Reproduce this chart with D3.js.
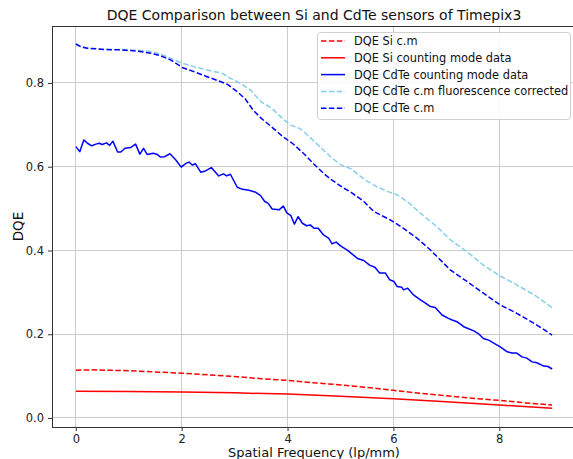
<!DOCTYPE html>
<html>
<head>
<meta charset="utf-8">
<script src="https://cdn.jsdelivr.net/npm/d3@7"></script>
<style>
  html, body { margin: 0; padding: 0; background: #fff; }
  svg { display: block; font-family: "DejaVu Sans", sans-serif; }
</style>
</head>
<body>
<svg id="chart" width="573" height="459"></svg>
<script>
// ---------- data ----------
const chartTitle = "DQE Comparison between Si and CdTe sensors of Timepix3";
const xLabel = "Spatial Frequency (lp/mm)";
const yLabel = "DQE";
const xTicks = [0, 2, 4, 6, 8];
const yTicks = [0.0, 0.2, 0.4, 0.6, 0.8];

const seriesNames = [
  "DQE Si c.m",
  "DQE Si counting mode data",
  "DQE CdTe counting mode data",
  "DQE CdTe c.m fluorescence corrected",
  "DQE CdTe c.m"
];

const siCmX = [0, 0.3, 0.6, 1.0, 1.5, 2.0, 2.5, 3.0, 3.5, 4.0, 4.5, 5.0, 5.5, 6.0, 6.5, 7.0, 7.5, 8.0, 8.5, 9.0];
const siCmY = [0.114, 0.115, 0.114, 0.113, 0.110, 0.107, 0.103, 0.099, 0.094, 0.090, 0.084, 0.079, 0.073, 0.066, 0.059, 0.053, 0.047, 0.042, 0.036, 0.031];

const siDataX = [0, 1, 2, 3, 4, 5, 6, 7, 8, 9];
const siDataY = [0.064, 0.063, 0.062, 0.060, 0.057, 0.052, 0.046, 0.039, 0.031, 0.023];

const cdteDataX = [0, 0.075, 0.15, 0.22, 0.30, 0.38, 0.44, 0.50, 0.58, 0.64, 0.70, 0.79, 0.85, 0.93, 1.04, 1.13, 1.21, 1.28, 1.35, 1.46,
  1.53, 1.60, 1.68, 1.78, 1.89, 1.99, 2.08, 2.14, 2.20, 2.26, 2.36, 2.45, 2.56, 2.70, 2.79, 2.85, 2.92, 3.05, 3.15, 3.27,
  3.40, 3.49, 3.57, 3.63, 3.71, 3.84, 3.92, 3.99, 4.06, 4.13, 4.20, 4.28, 4.36, 4.43, 4.50, 4.58, 4.68, 4.78, 4.84, 4.92,
  5.00, 5.13, 5.32, 5.44, 5.55, 5.65, 5.74, 5.85, 5.93, 6.01, 6.07, 6.16, 6.19, 6.27, 6.38, 6.51, 6.60, 6.70, 6.79, 6.92,
  7.04, 7.11, 7.20, 7.33, 7.42, 7.52, 7.61, 7.70, 7.80, 7.92, 8.02, 8.15, 8.24, 8.33, 8.43, 8.52, 8.62, 8.71, 8.84, 8.92, 9.00];
const cdteDataY = [0.648, 0.636, 0.664, 0.656, 0.650, 0.654, 0.656, 0.653, 0.657, 0.651, 0.661, 0.635, 0.635, 0.644, 0.646, 0.654, 0.630, 0.644, 0.629, 0.632,
  0.630, 0.623, 0.624, 0.631, 0.616, 0.599, 0.608, 0.611, 0.604, 0.607, 0.587, 0.590, 0.598, 0.578, 0.583, 0.578, 0.582, 0.551, 0.546, 0.544,
  0.539, 0.531, 0.517, 0.513, 0.499, 0.497, 0.506, 0.489, 0.484, 0.463, 0.481, 0.465, 0.459, 0.461, 0.453, 0.453, 0.437, 0.429, 0.416, 0.420,
  0.411, 0.401, 0.381, 0.376, 0.365, 0.360, 0.346, 0.346, 0.330, 0.326, 0.314, 0.312, 0.306, 0.310, 0.294, 0.282, 0.275, 0.266, 0.264, 0.246,
  0.238, 0.234, 0.230, 0.218, 0.213, 0.208, 0.201, 0.190, 0.186, 0.177, 0.170, 0.158, 0.155, 0.155, 0.146, 0.143, 0.134, 0.132, 0.124, 0.123, 0.117];

const cdteFluoX = [0, 0.1, 0.22, 0.53, 0.85, 1.16, 1.42, 1.6, 1.79, 2.01, 2.23, 2.48, 2.77, 2.92, 3.11, 3.3, 3.5, 3.7, 3.9, 4.05,
  4.25, 4.45, 4.65, 4.85, 5.0, 5.2, 5.47, 5.69, 5.91, 6.07, 6.26, 6.51, 6.82, 7.08, 7.39, 7.70, 8.02, 8.33, 8.71, 9.0];
const cdteFluoY = [0.893, 0.886, 0.883, 0.880, 0.880, 0.878, 0.875, 0.869, 0.859, 0.847, 0.839, 0.831, 0.823, 0.811, 0.799, 0.783, 0.755, 0.740, 0.716, 0.700,
  0.690, 0.667, 0.643, 0.620, 0.605, 0.595, 0.568, 0.552, 0.540, 0.533, 0.517, 0.489, 0.457, 0.425, 0.397, 0.365, 0.339, 0.318, 0.290, 0.263];

const cdteCmX = [0, 0.1, 0.22, 0.53, 0.85, 1.16, 1.42, 1.6, 1.79, 2.01, 2.23, 2.48, 2.74, 2.86, 3.05, 3.2, 3.35, 3.5, 3.7, 3.9,
  4.1, 4.3, 4.5, 4.7, 4.84, 5.06, 5.19, 5.44, 5.63, 5.94, 6.19, 6.45, 6.70, 7.08, 7.39, 7.70, 8.02, 8.33, 8.71, 9.0];
const cdteCmY = [0.893, 0.886, 0.883, 0.880, 0.879, 0.876, 0.871, 0.865, 0.855, 0.837, 0.827, 0.815, 0.803, 0.797, 0.779, 0.762, 0.735, 0.716, 0.695, 0.673,
  0.655, 0.632, 0.606, 0.582, 0.568, 0.549, 0.540, 0.517, 0.493, 0.473, 0.453, 0.429, 0.401, 0.353, 0.326, 0.298, 0.270, 0.250, 0.222, 0.198];

const seriesColors = ["#ff0000", "#ff0000", "#0000ff", "#87ceeb", "#0000ff"];
const seriesDashed = [true, false, false, true, true];

// ---------- layout ----------
const svg = d3.select("#chart");
const L = 52, R = 576, T = 26, B = 427;
const x = d3.scaleLinear().domain([-0.45, 9.45]).range([L, R]);
const y = d3.scaleLinear().domain([-0.0215, 0.936]).range([B, T]);

// grid
const grid = svg.append("g");
grid.selectAll("line.gx").data(xTicks).join("line")
  .attr("x1", d => x(d)).attr("x2", d => x(d)).attr("y1", T).attr("y2", B)
  .attr("stroke", "#cccccc").attr("stroke-width", 1).attr("shape-rendering", "crispEdges");
grid.selectAll("line.gy").data(yTicks).join("line")
  .attr("y1", d => y(d)).attr("y2", d => y(d)).attr("x1", L).attr("x2", R)
  .attr("stroke", "#cccccc").attr("stroke-width", 1).attr("shape-rendering", "crispEdges");

// lines
const series = [
  [siCmX, siCmY], [siDataX, siDataY], [cdteDataX, cdteDataY], [cdteFluoX, cdteFluoY], [cdteCmX, cdteCmY]
];
const line = d3.line().x(d => x(d[0])).y(d => y(d[1]));
series.forEach((s, i) => {
  const pts = s[0].map((v, k) => [v, s[1][k]]);
  svg.append("path").datum(pts)
    .attr("d", line)
    .attr("fill", "none")
    .attr("stroke", seriesColors[i])
    .attr("stroke-width", 1.5)
    .attr("stroke-linejoin", "round")
    .attr("stroke-dasharray", seriesDashed[i] ? "5.5,2.4" : null);
});

// axes
const xAxis = d3.axisBottom(x).tickValues(xTicks).tickFormat(d3.format("d")).tickSize(4).tickPadding(4);
const yAxis = d3.axisLeft(y).tickValues(yTicks).tickFormat(d3.format(".1f")).tickSize(4).tickPadding(4);
const gx = svg.append("g").attr("transform", `translate(0,${B})`).call(xAxis);
const gy = svg.append("g").attr("transform", `translate(${L},0)`).call(yAxis);
[gx, gy].forEach(g => {
  g.select(".domain").remove();
  g.selectAll("text").attr("font-size", 11.5).attr("fill", "#222").attr("font-family", "DejaVu Sans");
  g.selectAll("line").attr("stroke", "#333");
});

// spines
svg.append("rect").attr("x", L).attr("y", T).attr("width", R - L).attr("height", B - T)
  .attr("fill", "none").attr("stroke", "#333").attr("stroke-width", 1).attr("shape-rendering", "crispEdges");

// title and labels
svg.append("text").attr("x", (L + R) / 2).attr("y", 20).attr("text-anchor", "middle")
  .attr("font-size", 14).attr("fill", "#111").text(chartTitle);
svg.append("text").attr("x", (L + R) / 2).attr("y", 457).attr("text-anchor", "middle")
  .attr("font-size", 13).attr("fill", "#111").text(xLabel);
svg.append("text").attr("transform", `translate(23,${(T + B) / 2}) rotate(-90)`).attr("text-anchor", "middle")
  .attr("font-size", 13.5).attr("fill", "#111").text(yLabel);

// legend
const lg = svg.append("g");
lg.append("rect").attr("x", 317.5).attr("y", 32.5).attr("width", 253).attr("height", 87).attr("rx", 3)
  .attr("fill", "#fff").attr("fill-opacity", 0.85).attr("stroke", "#d0d0d0").attr("stroke-width", 1);
seriesNames.forEach((name, i) => {
  const cy = 41 + i * 16.8;
  lg.append("line").attr("x1", 321).attr("x2", 345).attr("y1", cy).attr("y2", cy)
    .attr("stroke", seriesColors[i]).attr("stroke-width", 1.5)
    .attr("stroke-dasharray", seriesDashed[i] ? "5.5,2.4" : null);
  lg.append("text").attr("x", 354).attr("y", cy).attr("dy", "0.35em")
    .attr("font-size", 11.4).attr("fill", "#111").text(name);
});
</script>
</body>
</html>
